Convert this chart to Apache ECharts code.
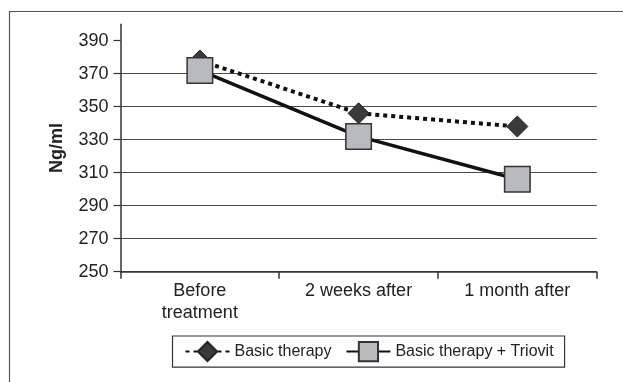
<!DOCTYPE html>
<html>
<head>
<meta charset="utf-8">
<title>Ng/ml chart</title>
<style>
  * { margin: 0; padding: 0; box-sizing: border-box; }
  body { background: #ffffff; width: 623px; height: 382px; overflow: hidden; }
  #chart { width: 623px; height: 382px; }
</style>
<script src="https://cdn.jsdelivr.net/npm/echarts@6/dist/echarts.min.js"></script>
</head>
<body>
<div id="chart"></div>
<script>
// data
const categories = ['Before\ntreatment', '2 weeks after', '1 month after'];
const basicTherapy = [378, 346, 338];
const basicTriovit = [372, 332, 306];
const yTicks = [250, 270, 290, 310, 330, 350, 370, 390];

const FONT = 'Liberation Sans';
const INK = '#222';

const chart = echarts.init(document.getElementById('chart'));

chart.setOption({
  animation: false,
  backgroundColor: '#ffffff',
  textStyle: { fontFamily: FONT },
  grid: { left: 120.5, right: 26.3, top: 24.2, bottom: 110.3 },
  graphic: [{
    // outer frame, runs off the right and bottom edge
    type: 'rect',
    shape: { x: 9.5, y: 11.5, width: 700, height: 500 },
    style: { fill: 'none', stroke: '#555', lineWidth: 1.2 },
    silent: true
  }],
  xAxis: {
    type: 'category',
    data: categories,
    boundaryGap: true,
    axisLine: { lineStyle: { color: '#333', width: 1.5 } },
    axisTick: { show: true, length: 7, lineStyle: { color: '#333', width: 1.5 } },
    axisLabel: { color: INK, fontSize: 18, lineHeight: 22, margin: 8, fontFamily: FONT },
    splitLine: { show: false }
  },
  yAxis: {
    type: 'value',
    min: 250,
    max: 400,
    interval: 20,
    name: 'Ng/ml',
    nameLocation: 'middle',
    nameGap: 54,
    nameRotate: 90,
    nameTextStyle: { color: INK, fontSize: 18, fontWeight: 'bold', fontFamily: FONT },
    axisLine: { show: true, lineStyle: { color: '#333', width: 1.5 } },
    axisTick: { show: true, length: 7, customValues: yTicks, lineStyle: { color: '#333', width: 1.2 } },
    axisLabel: { color: INK, fontSize: 18, margin: 12, customValues: yTicks, fontFamily: FONT },
    splitLine: { show: true, showMaxLine: false, lineStyle: { color: '#4a4a4a', width: 1.2 } }
  },
  legend: {
    left: 172.5,
    top: 336,
    orient: 'horizontal',
    padding: [5, 11, 5, 12],
    itemGap: 14,
    itemWidth: 44,
    itemHeight: 24,
    borderColor: '#333',
    borderWidth: 1.2,
    textStyle: { color: INK, fontSize: 16, fontFamily: FONT },
    data: ['Basic therapy', 'Basic therapy + Triovit']
  },
  series: [
    {
      name: 'Basic therapy',
      type: 'line',
      data: basicTherapy,
      symbol: 'diamond',
      symbolSize: 21,
      lineStyle: { color: '#111', width: 4, type: [4, 4] },
      itemStyle: { color: '#3a3a3a', borderColor: '#222', borderWidth: 1 },
      z: 2
    },
    {
      name: 'Basic therapy + Triovit',
      type: 'line',
      data: basicTriovit,
      symbol: 'rect',
      symbolSize: 25.5,
      lineStyle: { color: '#111', width: 3.5 },
      itemStyle: { color: '#b9babf', borderColor: '#333', borderWidth: 1.5 },
      z: 3
    }
  ]
});
</script>
</body>
</html>
